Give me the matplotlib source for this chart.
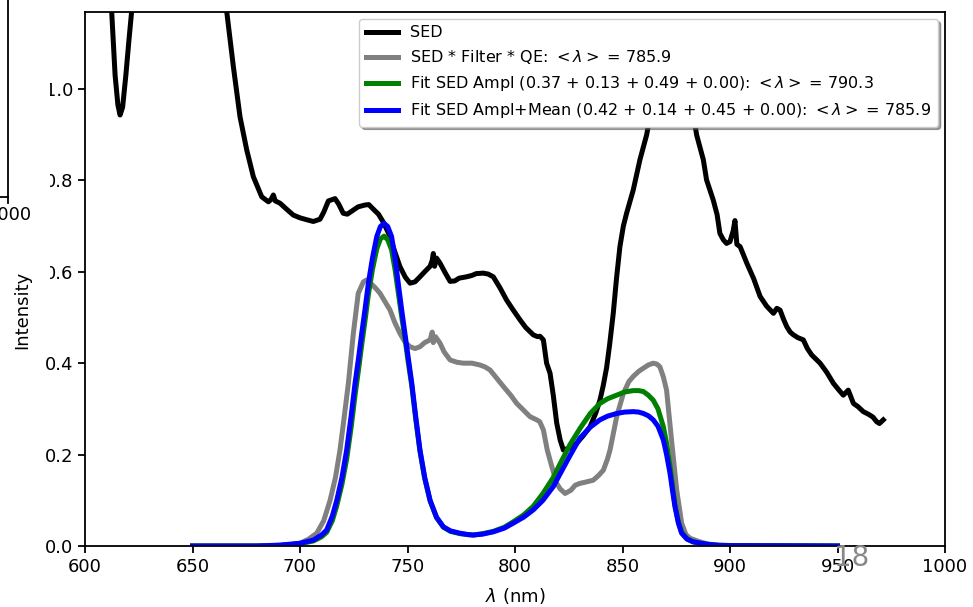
import matplotlib
matplotlib.use("Agg")
import matplotlib.pyplot as plt
from matplotlib.patches import Rectangle
from matplotlib.lines import Line2D

# ---------------- data ----------------
sed_wl = [600, 605, 610, 612.4, 614, 615.3, 616.3, 617.5, 619, 620.5, 621.7, 624, 630, 640, 650, 660,
          663, 665.9, 669.0, 672.1, 675.2, 678.3, 682.2, 685.3, 686.5, 687.6, 688.5, 690.7, 693.5, 696.9,
          700, 703, 706.2, 709.3, 711, 713.2, 716.3, 718, 720.1, 722, 724.8, 727, 730.2, 732, 734.1,
          736.5, 738.8, 741.9, 744, 746.5, 749, 751.2, 753.5, 755.8, 758, 760.5, 761.5, 762.0, 762.6,
          763.5, 765.1, 767.5, 769.8, 772, 774, 777.5, 780, 782, 785.3, 787.5, 789.9, 793, 796.1, 799.2,
          802.3, 805, 808.5, 810.5, 811.6, 813.2, 814.7, 816.3, 817.8, 819.4, 821, 822.5, 825, 828.7,
          831.5, 834.9, 837.5, 839.5, 841, 842.6, 844, 845.7, 847.2, 848.8, 850.4, 851.9, 855.0, 858.1, 861.2,
          864, 867, 870, 875, 880, 882, 884.5, 887.6, 889.1, 892.2, 894, 895.3, 896.9, 898.4, 900.0,
          901.5, 902.3, 903.2, 904.7, 907.8, 911, 914.0, 917, 920.2, 921.8, 923.3, 925, 926.4, 928,
          929.5, 931.5, 934.1, 936, 938, 941.9, 945, 948.1, 950.5, 952.7, 955.0, 957.4, 959.5, 962.0,
          964.5, 966.5, 968.2, 969.5, 971.3]
sed_val = [1.70, 1.55, 1.32, 1.17, 1.03, 0.965, 0.943, 0.96, 1.03, 1.11, 1.17, 1.35, 1.60, 1.75, 1.65, 1.40,
           1.28, 1.17, 1.049, 0.939, 0.867, 0.808, 0.764, 0.753, 0.758, 0.768, 0.755, 0.750, 0.738, 0.724,
           0.718, 0.714, 0.710, 0.715, 0.730, 0.755, 0.760, 0.748, 0.728, 0.726, 0.735, 0.742, 0.746, 0.747, 0.737,
           0.726, 0.708, 0.677, 0.645, 0.611, 0.588, 0.575, 0.578, 0.589, 0.600, 0.612, 0.625, 0.640, 0.612,
           0.630, 0.619, 0.598, 0.579, 0.580, 0.586, 0.589, 0.592, 0.596, 0.597, 0.595, 0.589, 0.565, 0.538, 0.516,
           0.495, 0.478, 0.462, 0.458, 0.459, 0.451, 0.400, 0.378, 0.330, 0.269, 0.232, 0.210, 0.214, 0.225,
           0.240, 0.261, 0.290, 0.319, 0.350, 0.390, 0.440, 0.509, 0.585, 0.655, 0.700, 0.728, 0.779, 0.845, 0.899,
           0.97, 1.04, 1.08, 1.10, 1.04, 0.97, 0.899, 0.845, 0.801, 0.757, 0.725, 0.684, 0.670, 0.662, 0.666,
           0.690, 0.712, 0.660, 0.655, 0.619, 0.585, 0.546, 0.525, 0.509, 0.520, 0.516, 0.495, 0.480, 0.468,
           0.462, 0.456, 0.451, 0.432, 0.418, 0.400, 0.380, 0.356, 0.342, 0.330, 0.341, 0.312, 0.305, 0.294,
           0.288, 0.282, 0.272, 0.268, 0.276]

filt_wl = [650, 680, 695, 700, 704, 707.8, 711, 714, 716.5, 718.6, 720.5, 722.5, 724.8, 727.1, 729.5, 731,
           732.6, 735, 737.2, 741.9, 744, 746.5, 749, 751.2, 753.5, 755.8, 758, 760.5, 761.5, 762, 763,
           765.1, 767, 769.8, 773, 776, 780, 783.7, 786, 788.4, 791, 794.6, 798, 800.8, 804, 807, 810.1,
           811.5, 813.2, 815, 817.1, 819.4, 821, 823.3, 826, 828, 830.2, 833, 836.4, 839, 841.1, 843, 844.2,
           847.3, 850.4, 853, 855, 857.5, 859.7, 862, 864.3, 866, 867.4, 869, 870.5, 872.8, 875.2, 877.5,
           879.5, 881.4, 886, 890, 900, 950]
filt_val = [0.0, 0.0, 0.002, 0.006, 0.015, 0.028, 0.055, 0.10, 0.15, 0.21, 0.28, 0.356, 0.465, 0.553, 0.578, 0.582,
            0.576, 0.565, 0.553, 0.516, 0.49, 0.465, 0.445, 0.436, 0.432, 0.436, 0.445, 0.451, 0.468, 0.445, 0.458,
            0.444, 0.425, 0.407, 0.402, 0.400, 0.400, 0.396, 0.392, 0.385, 0.370, 0.349, 0.330, 0.312, 0.297, 0.283, 0.276,
            0.272, 0.254, 0.21, 0.174, 0.137, 0.125, 0.115, 0.122, 0.133, 0.137, 0.140, 0.144, 0.155, 0.166, 0.19, 0.21,
            0.283, 0.334, 0.360, 0.371, 0.382, 0.389, 0.396, 0.400, 0.398, 0.392, 0.370, 0.341, 0.232, 0.123, 0.050,
            0.025, 0.017, 0.009, 0.004, 0.001, 0.0]

fit_wl = [650, 680, 690.7, 700, 706.2, 710, 712.4, 715, 717.1, 719.5, 721.7, 723.8, 725.6, 727.2, 728.7, 730.3,
          731.8, 733.7, 735.7, 737.4, 739.1, 740.8, 742.6, 744.2, 745.7, 747.2, 748.8, 750.4, 752, 753.9, 755.8,
          758, 760.5, 763.5, 766.7, 770, 774.4, 778, 780.6, 785, 789.9, 795, 799.2, 804, 808.5, 813, 817.8, 821,
          825.6, 830.2, 835, 839.5, 843, 847.3, 851, 855, 857.5, 859.7, 862, 864.3, 866.5, 869, 870.5, 872.1, 873.3,
          874.4, 876, 877.5, 880, 882.9, 889.1, 895, 950]
fit_ampl = [0.0, 0.0, 0.001, 0.005, 0.011, 0.02, 0.03, 0.055, 0.088, 0.135, 0.19, 0.26, 0.33, 0.385, 0.44, 0.495,
            0.55, 0.605, 0.65, 0.672, 0.678, 0.670, 0.648, 0.605, 0.555, 0.505, 0.455, 0.40, 0.35, 0.275, 0.207,
            0.148, 0.099, 0.062, 0.041, 0.032, 0.027, 0.025, 0.024, 0.027, 0.032, 0.041, 0.053, 0.068, 0.087, 0.115, 0.15, 0.18,
            0.222, 0.257, 0.29, 0.312, 0.322, 0.330, 0.337, 0.340, 0.340, 0.338, 0.330, 0.319, 0.30, 0.261, 0.225, 0.174, 0.13,
            0.09, 0.052, 0.03, 0.016, 0.009, 0.004, 0.001, 0.0]
fit_mean = [0.0, 0.0, 0.002, 0.006, 0.013, 0.024, 0.035, 0.065, 0.10, 0.15, 0.21, 0.285, 0.356, 0.41, 0.465, 0.52,
            0.575, 0.63, 0.677, 0.699, 0.706, 0.699, 0.677, 0.63, 0.575, 0.52, 0.465, 0.41, 0.356, 0.28, 0.21,
            0.15, 0.10, 0.063, 0.042, 0.033, 0.028, 0.025, 0.024, 0.026, 0.031, 0.039, 0.050, 0.063, 0.079, 0.10, 0.13, 0.158,
            0.198, 0.236, 0.260, 0.276, 0.284, 0.290, 0.293, 0.294, 0.293, 0.290, 0.285, 0.276, 0.262, 0.232, 0.20, 0.159, 0.12,
            0.086, 0.05, 0.028, 0.015, 0.009, 0.004, 0.001, 0.0]

labels = ["SED",
          r"SED * Filter * QE: $<\lambda>$ = 785.9",
          r"Fit SED Ampl (0.37 + 0.13 + 0.49 + 0.00): $<\lambda>$ = 790.3",
          r"Fit SED Ampl+Mean (0.42 + 0.14 + 0.45 + 0.00): $<\lambda>$ = 785.9"]
colors = ["black", "gray", "green", "blue"]
xticks = [600, 650, 700, 750, 800, 850, 900, 950, 1000]
yticks = [0.0, 0.2, 0.4, 0.6, 0.8, 1.0]

# ---------------- figure ----------------
W, H = 973, 607
plt.rcParams['font.family'] = ['DejaVu Sans']
plt.rcParams['axes.linewidth'] = 1.3
fig = plt.figure(figsize=(W / 100, H / 100), dpi=100)

def fx(x):
    return x / W

def fy(y):
    return 1 - y / H

ax = fig.add_axes([fx(85), fy(546), (945 - 85) / W, (546 - 11.7) / H])
ax.plot(sed_wl, sed_val, color=colors[0], lw=3.6, label=labels[0])
ax.plot(filt_wl, filt_val, color=colors[1], lw=3.6, label=labels[1])
ax.plot(fit_wl, fit_ampl, color=colors[2], lw=3.6, label=labels[2])
ax.plot(fit_wl, fit_mean, color=colors[3], lw=3.6, label=labels[3])

ax.set_xlim(600, 1000)
ax.set_ylim(0, 1.169)
ax.set_xticks(xticks)
ax.set_yticks(yticks)
ax.tick_params(labelsize=13, length=5, width=1.3)
ax.set_xlabel(r"$\lambda$ (nm)", fontsize=13, labelpad=7.5)

leg = ax.legend(loc="upper right", fontsize=11.5, shadow=True, fancybox=True,
                borderaxespad=0.45)

# overlapping neighbouring panel (partially visible at left)
fig.add_artist(Rectangle((fx(0), fy(284)), fx(50), 284 / H, transform=fig.transFigure,
                         facecolor="white", edgecolor="none", zorder=3))
fig.add_artist(Line2D([fx(8.3), fx(8.3)], [fy(-2), fy(197)], transform=fig.transFigure,
                      color="black", lw=1.3, zorder=4))
fig.add_artist(Line2D([fx(-2), fx(8.3)], [fy(197), fy(197)], transform=fig.transFigure,
                      color="black", lw=1.3, zorder=4))
fig.add_artist(Line2D([fx(8.3), fx(8.3)], [fy(197), fy(203)], transform=fig.transFigure,
                      color="black", lw=1.3, zorder=4))
fig.text(fx(8.3), fy(215), "1000", ha="center", va="center", fontsize=13, zorder=5)

fig.text(fx(22), fy(310), "Intensity", rotation=90, ha="center", va="center",
         fontsize=13, zorder=5)

fig.text(fx(852), fy(558), "18", ha="center", va="center", fontsize=20,
         color="#888888", zorder=5)

fig.savefig("out.png", dpi=100)
